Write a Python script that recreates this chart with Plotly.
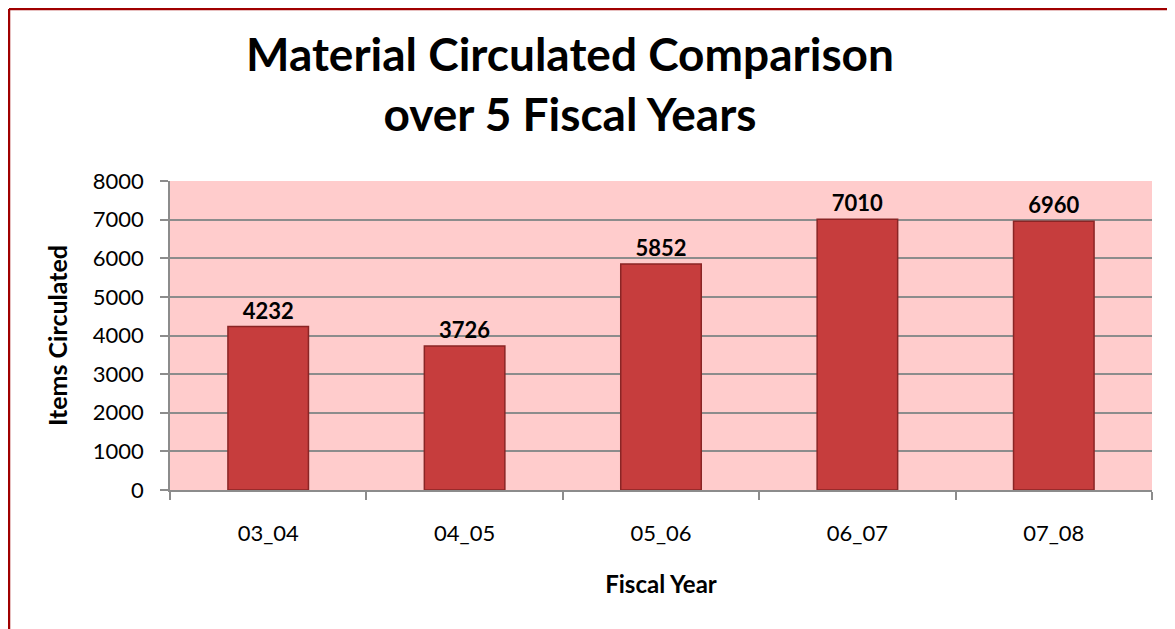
import plotly.graph_objects as go

# data
fiscal_years = ['03_04', '04_05', '05_06', '06_07', '07_08']
items_circulated = [4232, 3726, 5852, 7010, 6960]
y_ticks = [0, 1000, 2000, 3000, 4000, 5000, 6000, 7000, 8000]

FONT = 'Lato'
GRID = '#8C8C8C'

# page body has an 8px margin, so the figure is shrunk to fit the window
W, H = 1167, 621
L, T, R, B = 162, 173, 23, 139
PW, PH = W - L - R, H - T - B

fig = go.Figure(
    data=go.Bar(
        x=fiscal_years,
        y=items_circulated,
        text=[str(v) for v in items_circulated],
        textposition='outside',
        textfont=dict(family=FONT, size=22, color='black', weight='bold'),
        cliponaxis=False,
        marker=dict(color='#C63D3D', line=dict(color='#8A2525', width=1.5)),
    ),
    layout=go.Layout(
        width=W,
        height=H,
        margin=dict(l=L, r=R, t=T, b=B),
        paper_bgcolor='white',
        plot_bgcolor='#FFCCCC',
        bargap=0.59,
        showlegend=False,
        font=dict(family=FONT, color='black'),
        title=dict(
            text='<b>Material Circulated Comparison<br>over 5 Fiscal Years</b>',
            font=dict(family=FONT, size=46, color='black'),
            x=562 / W, xanchor='center', xref='container',
            y=1 - 63 / H, yanchor='middle', yref='container',
        ),
        xaxis=dict(
            title=dict(text='<b>Fiscal Year</b>', font=dict(size=24), standoff=31),
            tickfont=dict(size=22),
            ticks='outside', ticklen=8, tickcolor=GRID, tickwidth=1.5,
            tickson='boundaries',
            ticklabelstandoff=23,
            showline=True, linecolor=GRID, linewidth=1.5,
            showgrid=False,
        ),
        yaxis=dict(
            title=dict(text='<b>Items Circulated</b>', font=dict(size=25), standoff=18),
            range=[0, 8000],
            tickvals=y_ticks,
            tickfont=dict(size=22),
            ticks='outside', ticklen=8, tickcolor=GRID, tickwidth=1.5,
            ticklabelstandoff=12,
            showline=True, linecolor=GRID, linewidth=1.5,
            showgrid=True, gridcolor=GRID, gridwidth=1.5,
            zeroline=False,
        ),
        shapes=[
            # outer chart border (only top and left edges visible in the frame)
            dict(type='line', xref='paper', yref='paper',
                 x0=(1 - L) / PW, x1=(W - L) / PW,
                 y0=(T + PH - 1) / PH, y1=(T + PH - 1) / PH,
                 line=dict(color='#A00000', width=2.5)),
            dict(type='line', xref='paper', yref='paper',
                 x0=(1 - L) / PW, x1=(1 - L) / PW,
                 y0=(T + PH - 1) / PH, y1=(T + PH - H) / PH,
                 line=dict(color='#A00000', width=2.5)),
        ],
    ),
)

fig.write_html('out.html')
